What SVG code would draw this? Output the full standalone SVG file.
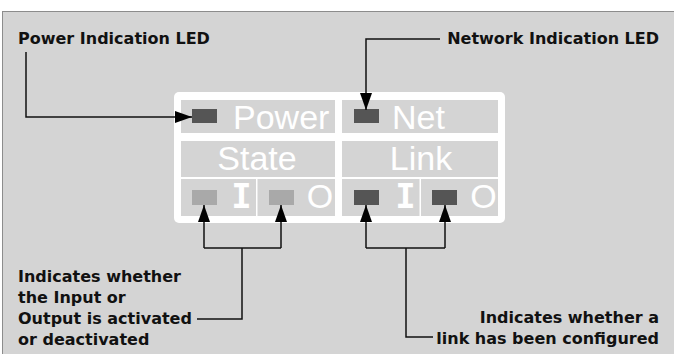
<svg xmlns="http://www.w3.org/2000/svg" width="674" height="354" viewBox="0 0 674 354">
<defs>
<marker id="ah" markerUnits="userSpaceOnUse" markerWidth="17" markerHeight="12" refX="17" refY="6" orient="auto">
<path d="M0,0 L17,6 L0,12 z" fill="#000"/>
</marker>
<style>
.lbl{font-family:"DejaVu Sans",Verdana,sans-serif;font-weight:bold;font-size:16px;fill:#111}
.big{font-family:"Liberation Sans",Arial,sans-serif;font-size:34px;fill:#fff}
.mono{font-family:"DejaVu Sans Mono",monospace;font-weight:bold;font-size:34px;fill:#fff}
.cell{fill:#d4d4d4}
.led{fill:#555}
.ledl{fill:#a9a9a9}
.cn{fill:none;stroke:#111;stroke-width:1.5}
</style>
</defs>
<rect x="0" y="0" width="674" height="354" fill="#fff"/>
<rect x="2.5" y="11.5" width="680" height="350" fill="#d4d4d4" stroke="#8c8c8c" stroke-width="1"/>
<g id="panel">
<rect x="174" y="92" width="331" height="131" rx="5" fill="#fff"/>
<rect class="cell" x="181" y="100" width="154" height="33"/>
<rect class="cell" x="342" y="100" width="156" height="33"/>
<rect class="cell" x="181" y="141" width="154" height="36"/>
<rect class="cell" x="342" y="141" width="156" height="36"/>
<rect class="cell" x="181" y="179" width="75" height="37"/>
<rect class="cell" x="257.5" y="179" width="77.5" height="37"/>
<rect class="cell" x="342" y="179" width="77.5" height="37"/>
<rect class="cell" x="421" y="179" width="77" height="37"/>
</g>
<g id="power">
<rect class="led" x="192" y="109" width="25" height="14"/>
<text class="big" x="233" y="129">Power</text>
</g>
<g id="net">
<rect class="led" x="354" y="109" width="25" height="14"/>
<text class="big" x="392" y="129">Net</text>
</g>
<g id="state">
<text class="big" x="257" y="170" text-anchor="middle">State</text>
<rect class="ledl" x="192" y="190" width="25" height="15"/>
<text class="mono" x="241.5" y="208" text-anchor="middle">I</text>
<rect class="ledl" x="269" y="190" width="25" height="15"/>
<text class="big" x="320" y="208" text-anchor="middle">O</text>
</g>
<g id="link">
<text class="big" x="421" y="170" text-anchor="middle">Link</text>
<rect class="led" x="354" y="190" width="25" height="15"/>
<text class="mono" x="405.5" y="208" text-anchor="middle">I</text>
<rect class="led" x="432" y="190" width="25" height="15"/>
<text class="big" x="483.5" y="208" text-anchor="middle">O</text>
</g>
<g id="labels">
<text class="lbl" x="18" y="44">Power Indication LED</text>
<text class="lbl" x="659" y="44" text-anchor="end">Network Indication LED</text>
<text class="lbl" x="18" y="282">Indicates whether</text>
<text class="lbl" x="18" y="303">the Input or</text>
<text class="lbl" x="18" y="324">Output is activated</text>
<text class="lbl" x="18" y="345">or deactivated</text>
<text class="lbl" x="659" y="323" text-anchor="end">Indicates whether a</text>
<text class="lbl" x="659" y="344" text-anchor="end">link has been configured</text>
</g>
<g id="connectors">
<path class="cn" d="M26,52 V117 H192" marker-end="url(#ah)"/>
<path class="cn" d="M440,39 H366 V110" marker-end="url(#ah)"/>
<path class="cn" d="M204,248 V205" marker-end="url(#ah)"/>
<path class="cn" d="M281,248 V205" marker-end="url(#ah)"/>
<path class="cn" d="M204,248 H281 M242,248 V319 H197"/>
<path class="cn" d="M366,248 V205" marker-end="url(#ah)"/>
<path class="cn" d="M445,248 V205" marker-end="url(#ah)"/>
<path class="cn" d="M366,248 H445 M406,248 V337 H433"/>
</g>
</svg>
